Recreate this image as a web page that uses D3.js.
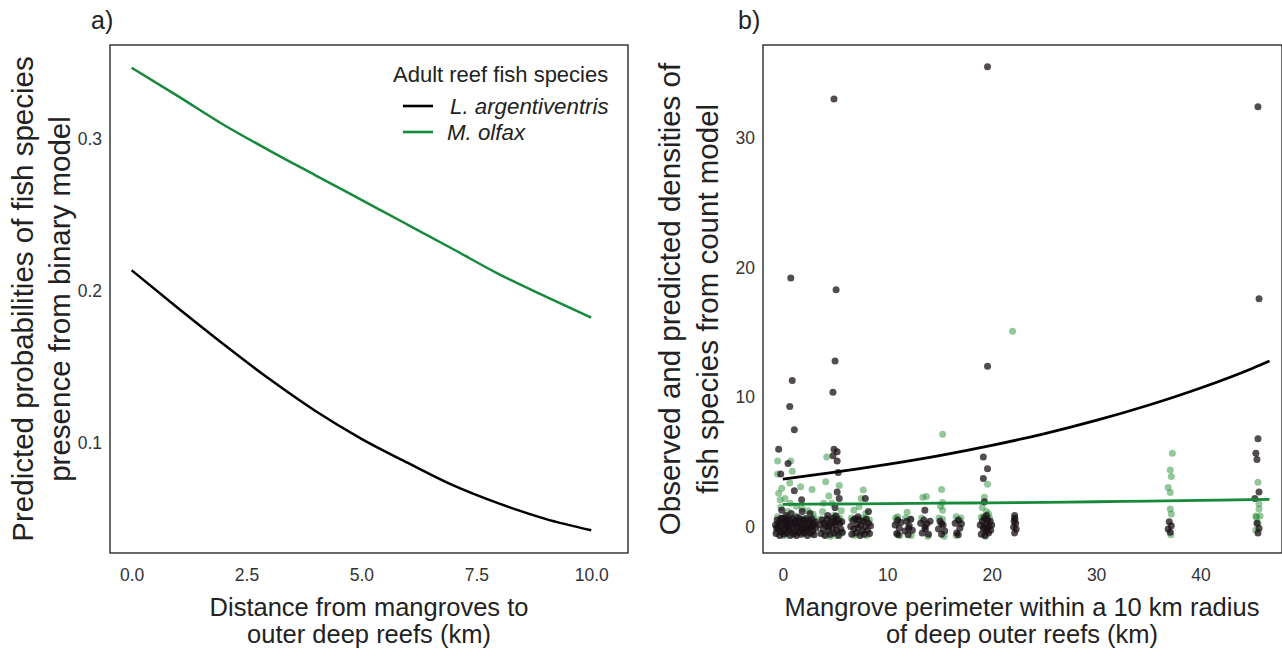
<!DOCTYPE html>
<html><head><meta charset="utf-8">
<script src="https://cdn.jsdelivr.net/npm/d3@7"></script>
<style>
html,body{margin:0;padding:0;background:#fff;}
svg{display:block;font-family:"Liberation Sans",Arial,Helvetica,sans-serif;}
</style></head><body>
<svg id="c" width="1282" height="652"></svg>
<script>
// ---------- Panel a: predicted probabilities (binary model) ----------
const distKm = [0,1,2,3,4,5,6,7,8,9,10];
const probLArg = [0.2137,0.189,0.165,0.142,0.121,0.1027,0.087,0.072,0.060,0.050,0.0425];
const probMOlf = [0.347,0.3285,0.3095,0.2925,0.2762,0.260,0.2438,0.2275,0.211,0.1965,0.1825];
const ticksAX = [0,2.5,5,7.5,10];
const ticksAY = [0.1,0.2,0.3];

// ---------- Panel b: count model ----------
const perimKm = [0,5,10,15,20,25,30,35,40,45,46.6];
const predLArg = [3.70,4.23,4.83,5.51,6.30,7.19,8.22,9.39,10.72,12.25,12.8];
const predMOlf = [1.75,1.78,1.81,1.84,1.87,1.91,1.95,2.00,2.05,2.11,2.13];
const ticksBX = [0,10,20,30,40];
const ticksBY = [0,10,20,30];

// observed (jittered) densities, [perimeter, density]
const obsMOlf = [
 [-0.5,5.1],[0.76,5.1],[-0.5,4.1],[0.9,4.3],[0.66,3.4],[1.7,3.1],[2.8,2.9],[-0.1,3.0],[-0.4,2.6],[-0.25,2.08],
 [0.7,1.83],[1.85,1.44],[2.4,1.26],[1.2,0.85],[0.2,2.2],[1.3,1.6],[-0.2,1.5],[0.5,1.2],[2.9,1.0],[-0.5,0.8],[0.3,0.6],[2.0,0.7],
 [4.2,5.4],[4.1,3.5],[5.4,3.2],[3.9,1.83],[4.7,1.83],[5.6,1.26],[3.8,1.2],[4.9,0.92],[5.3,0.6],[4.4,2.4],
 [7.7,2.85],[7.5,2.2],[7.3,1.57],[6.8,1.3],[7.95,1.05],[7.9,0.6],
 [11.0,0.8],[10.9,0.4],[11.9,1.15],[12.2,0.6],[13.4,2.3],[13.75,2.35],
 [15.3,7.15],[15.2,2.9],[15.3,1.9],[15.1,1.6],[15.3,1.3],[15.3,0.6],[16.6,0.8],[16.9,0.5],
 [19.6,3.3],[19.1,1.5],[19.5,1.2],[19.2,0.8],[19.7,1.0],[19.3,2.3],
 [22.0,15.1],
 [37.3,5.7],[37.1,4.4],[37.2,3.9],[36.9,3.06],[37.1,2.67],[37.1,1.4],[37.2,1.0],
 [45.5,3.45],[45.6,1.8],[45.6,1.4],[45.3,0.85],[45.7,0.85],[45.5,0.33],[45.3,-0.23]
];
const obsMOlfZero = [
 [-0.6,-0.35],[-0.3,0.5],[0.1,-0.65],[0.35,0.35],[0.6,-0.15],[0.85,0.65],[1.1,-0.55],[1.35,0.25],[1.6,-0.4],[1.95,0.55],
 [2.25,-0.3],[2.55,0.5],[2.8,-0.55],[3.0,0.7],[3.15,0.1],
 [3.65,0.65],[3.95,-0.55],[4.25,0.45],[4.55,-0.7],[4.85,0.4],[5.15,-0.65],[5.45,0.7],[5.65,-0.45],
 [6.55,0.7],[6.85,-0.65],[7.15,0.6],[7.45,-0.4],[7.75,0.7],[8.05,-0.65],[8.3,0.55],
 [10.8,0.7],[11.2,-0.65],[11.75,0.7],[12.3,-0.65],[13.3,0.7],[13.9,-0.7],[14.95,0.7],[15.45,-0.7],
 [16.6,-0.65],[17.05,0.7],[19.0,0.75],[19.4,-0.7],[19.8,0.7],[22.25,0.65],[37.15,-0.6],[45.35,0.75]
];
const obsLArg = [
 [0.76,19.2],[0.9,11.3],[0.66,9.3],[1.1,7.5],[-0.4,6.0],[0.5,4.9],[-0.2,4.1],[1.1,2.8],[1.8,2.1],[-0.1,1.3],
 [0.8,1.05],[1.85,1.2],[2.6,1.05],[-0.15,0.67],[0.3,0.9],[1.4,0.75],
 [4.9,33.0],[5.1,18.3],[5.0,12.8],[4.8,10.4],[4.9,6.0],[5.2,5.8],[4.8,5.5],[5.2,5.1],[5.3,4.2],[5.2,2.7],
 [5.4,2.2],[5.0,1.5],[5.1,0.85],[4.3,0.9],
 [7.9,2.2],[8.2,1.2],[7.2,0.8],
 [13.6,1.3],
 [19.6,35.5],[19.6,12.4],[19.2,5.4],[19.6,4.5],[19.2,3.75],[19.3,1.95],[19.5,0.9],
 [22.2,0.67],[22.2,0.9],
 [45.5,32.4],[45.6,17.6],[45.5,6.8],[45.3,5.7],[45.4,5.2],[45.6,2.7],[45.2,2.2]
];
const obsLArgZero = [
 [-0.7,0.15],[-0.65,-0.5],[-0.55,0.55],[-0.45,-0.15],[-0.4,0.3],[-0.3,-0.65],[-0.25,0.05],[-0.15,0.65],[-0.1,-0.4],[0.0,0.25],
 [0.1,-0.55],[0.15,0.45],[0.25,-0.1],[0.3,0.7],[0.4,-0.45],[0.45,0.15],[0.55,-0.25],[0.6,0.55],[0.7,-0.65],[0.75,0.3],
 [0.85,-0.1],[0.9,0.65],[1.0,-0.5],[1.05,0.15],[1.15,-0.3],[1.2,0.45],[1.3,-0.65],[1.35,0.0],[1.45,0.4],[1.5,-0.4],
 [1.6,0.65],[1.65,0.1],[1.75,-0.55],[1.8,0.3],[1.9,-0.15],[1.95,0.55],[2.05,-0.45],[2.1,0.15],[2.2,-0.25],[2.25,0.65],
 [2.35,-0.65],[2.4,0.25],[2.5,-0.1],[2.55,0.5],[2.65,-0.45],[2.7,0.05],[2.8,0.6],[2.85,-0.3],[2.95,0.25],[3.0,-0.6],
 [3.1,0.4],[3.15,-0.1],[-0.6,-0.05],[0.05,-0.2],[0.5,0.0],[1.1,0.3],[1.7,-0.1],[2.3,0.0],[2.9,0.1],[0.35,0.2],
 [3.55,0.2],[3.65,-0.5],[3.75,0.55],[3.85,-0.15],[3.95,0.3],[4.05,-0.65],[4.15,0.1],[4.25,0.65],[4.35,-0.3],[4.45,0.25],
 [4.55,-0.55],[4.65,0.45],[4.75,-0.05],[4.85,0.7],[4.95,-0.45],[5.05,0.15],[5.15,-0.25],[5.25,0.55],[5.35,-0.65],[5.45,0.3],
 [5.55,-0.15],[5.65,0.4],[5.7,-0.4],[4.4,0.0],[5.0,0.35],
 [6.5,0.05],[6.6,-0.55],[6.7,0.5],[6.8,-0.15],[6.9,0.65],[7.0,-0.45],[7.1,0.2],[7.2,-0.05],[7.3,0.55],[7.4,-0.65],
 [7.5,0.15],[7.6,-0.3],[7.7,0.45],[7.8,-0.55],[7.9,0.05],[8.0,0.6],[8.1,-0.25],[8.2,0.3],[8.3,-0.5],[8.4,0.1],
 [10.75,0.15],[10.9,-0.5],[11.0,0.55],[11.15,-0.1],[11.3,0.35],[11.05,-0.6],
 [11.7,-0.3],[11.85,0.45],[12.0,-0.6],[12.1,0.1],[12.25,0.6],[12.4,-0.25],[12.05,-0.1],
 [13.2,0.3],[13.35,-0.45],[13.5,0.55],[13.65,-0.15],[13.8,0.25],[13.95,-0.55],[14.1,0.45],[13.6,0.0],
 [14.9,-0.15],[15.05,0.45],[15.2,-0.55],[15.35,0.15],[15.5,-0.3],[15.2,0.25],
 [16.5,0.3],[16.65,-0.45],[16.8,0.55],[16.95,-0.1],[17.1,0.25],[16.8,-0.6],
 [18.9,0.15],[19.0,-0.55],[19.1,0.45],[19.2,-0.15],[19.3,0.7],[19.35,-0.65],[19.45,0.25],[19.5,-0.3],[19.6,0.55],[19.7,-0.45],
 [19.75,0.05],[19.85,0.45],[19.9,-0.25],[20.0,0.15],[19.25,0.0],[19.55,-0.05],
 [22.1,0.0],[22.2,-0.45],[22.3,0.3],[22.35,-0.15],[22.15,0.45],
 [36.9,-0.15],[37.0,0.4],[37.1,-0.4],[37.2,0.1],
 [45.4,0.3],[45.5,-0.45],[45.6,-0.1]
];

const speciesNames = ["L. argentiventris","M. olfax"];
const colBlack = "#000000", colGreen = "#17893a";

const svg = d3.select("#c");
svg.append("rect").attr("width",1282).attr("height",652).attr("fill","#fff");

const TXT = "#222";
const tickFont = 17.5, xTitleFont = 25.5, yTitleFont = 29.5;

function frame(x0,y0,x1,y1){
  svg.append("rect").attr("x",x0).attr("y",y0).attr("width",x1-x0).attr("height",y1-y0)
    .attr("fill","none").attr("stroke","#2b2b2b").attr("stroke-width",1.4);
}
function axes(xs, ys, xt, yt, xfmt, yfmt){
  const gx = svg.append("g").attr("transform",`translate(0,${ys.range()[0]})`)
    .call(d3.axisBottom(xs).tickValues(xt).tickFormat(xfmt).tickSize(0).tickPadding(16));
  gx.select(".domain").remove();
  gx.selectAll("text").attr("font-size",tickFont).attr("fill","#333").attr("font-family",null);
  const gy = svg.append("g").attr("transform",`translate(${xs.range()[0]},0)`)
    .call(d3.axisLeft(ys).tickValues(yt).tickFormat(yfmt).tickSize(0).tickPadding(8));
  gy.select(".domain").remove();
  gy.selectAll("text").attr("font-size",tickFont).attr("fill","#333").attr("font-family",null);
}
function rotTitle(lines, x0, spacing, cy){
  lines.forEach((t,i)=>{
    svg.append("text").attr("transform",`translate(${x0+i*spacing},${cy}) rotate(-90)`)
      .attr("text-anchor","middle").attr("font-size",yTitleFont).attr("fill",TXT).text(t);
  });
}
function botTitle(lines, cx, y0, spacing){
  lines.forEach((t,i)=>{
    svg.append("text").attr("x",cx).attr("y",y0+i*spacing)
      .attr("text-anchor","middle").attr("font-size",xTitleFont).attr("fill",TXT).text(t);
  });
}

// ----- Panel a -----
const xa = d3.scaleLinear().domain([-0.47,10.8]).range([110,628]);
const ya = d3.scaleLinear().domain([0.0275,0.362]).range([553,45]);
axes(xa, ya, ticksAX, ticksAY, d3.format(".1f"), d3.format(".1f"));
const lineA = (vals)=> d3.line().x((d,i)=>xa(distKm[i])).y(d=>ya(d)).curve(d3.curveMonotoneX)(vals);
svg.append("path").attr("d",lineA(probMOlf)).attr("fill","none").attr("stroke",colGreen).attr("stroke-width",2.5);
svg.append("path").attr("d",lineA(probLArg)).attr("fill","none").attr("stroke",colBlack).attr("stroke-width",2.5);
frame(110,45,628,553);
rotTitle(["Predicted probabilities of fish species","presence from binary model"], 33, 37, 299);
botTitle(["Distance from mangroves to","outer deep reefs (km)"], 369, 616, 27);
svg.append("text").attr("x",91).attr("y",29).attr("font-size",25).attr("fill",TXT).text("a)");

// legend
svg.append("text").attr("x",393).attr("y",82).attr("font-size",22).attr("fill",TXT).text("Adult reef fish species");
[[colBlack,106,450],[colGreen,132,447]].forEach((c,i)=>{
  svg.append("line").attr("x1",403).attr("x2",433).attr("y1",c[1]).attr("y2",c[1])
    .attr("stroke",c[0]).attr("stroke-width",2.6);
  svg.append("text").attr("x",c[2]).attr("y",c[1]+7.5).attr("font-size",22.3).attr("font-style","italic")
    .attr("fill",TXT).text(speciesNames[i]);
});

// ----- Panel b -----
const xb = d3.scaleLinear().domain([-1.9,47.8]).range([763,1282]);
const yb = d3.scaleLinear().domain([-2.0,37.17]).range([553,45]);
axes(xb, yb, ticksBX, ticksBY, d3.format("d"), d3.format("d"));
const gPts = svg.append("g");
const R = 3.5;
gPts.selectAll("circle.g").data(obsMOlfZero.concat(obsMOlf)).enter().append("circle")
  .attr("cx",d=>xb(d[0])).attr("cy",d=>yb(d[1])).attr("r",R)
  .attr("fill","#1f8a2e").attr("fill-opacity",0.48);
gPts.selectAll("circle.k").data(obsLArgZero.concat(obsLArg)).enter().append("circle")
  .attr("cx",d=>xb(d[0])).attr("cy",d=>yb(d[1])).attr("r",R)
  .attr("fill","#1a1016").attr("fill-opacity",0.75);
const lineB = (vals)=> d3.line().x((d,i)=>xb(perimKm[i])).y(d=>yb(d)).curve(d3.curveMonotoneX)(vals);
svg.append("path").attr("d",lineB(predMOlf)).attr("fill","none").attr("stroke",colGreen).attr("stroke-width",2.8);
svg.append("path").attr("d",lineB(predLArg)).attr("fill","none").attr("stroke",colBlack).attr("stroke-width",2.8);
frame(763,45,1282,553);
rotTitle(["Observed and predicted densities of","fish species from count model"], 680, 38, 299);
botTitle(["Mangrove perimeter within a 10 km radius","of deep outer reefs (km)"], 1022, 616, 27);
svg.append("text").attr("x",738).attr("y",29).attr("font-size",25).attr("fill",TXT).text("b)");
</script>
</body></html>
